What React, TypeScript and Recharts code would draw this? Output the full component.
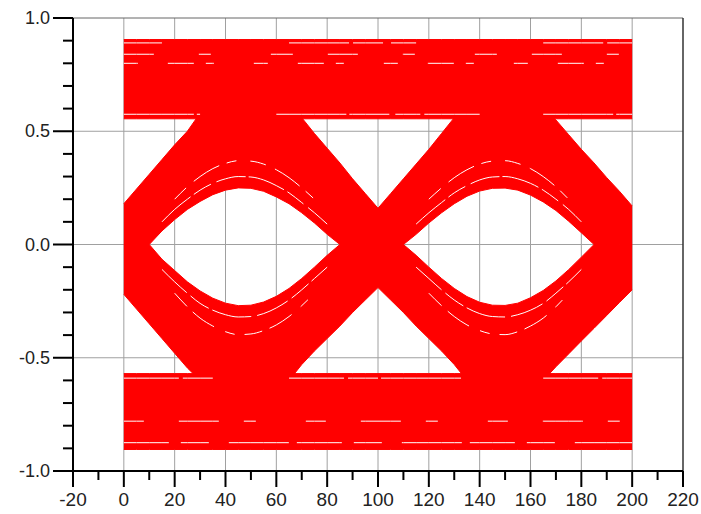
import { ComposedChart, Area, Line, XAxis, YAxis, CartesianGrid, ReferenceLine } from 'recharts'

// sample positions along the time axis (two bit periods, 0..200)
const times = [
  0, 5, 10, 15, 20, 25, 30, 35, 40, 45, 50, 55, 60, 65, 70, 75, 80, 85, 90, 95, 100,
  105, 110, 115, 120, 125, 130, 135, 140, 145, 150, 155, 160, 165, 170, 175, 180, 185, 190, 195, 200,
]

// upper half of the trace bundle: lower edge is the top of the eye opening
const upperLow = [
  0, 0, 0, 0.06, 0.11, 0.155, 0.19, 0.22, 0.24, 0.25, 0.248, 0.235, 0.21, 0.18, 0.14, 0.095, 0.045, 0, 0, 0, 0,
  0, 0, 0.045, 0.095, 0.14, 0.18, 0.213, 0.236, 0.248, 0.249, 0.24, 0.218, 0.188, 0.15, 0.103, 0.052, 0, 0, 0, 0,
]
const upperHigh = [
  0.18, 0.245, 0.31, 0.375, 0.44, 0.5, 0.58, 0.6, 0.6, 0.6, 0.6, 0.6, 0.6, 0.6, 0.56, 0.49, 0.425, 0.36, 0.29, 0.225, 0.16,
  0.225, 0.29, 0.355, 0.42, 0.49, 0.56, 0.6, 0.6, 0.6, 0.6, 0.6, 0.6, 0.6, 0.55, 0.485, 0.42, 0.36, 0.295, 0.235, 0.17,
]

// lower half of the trace bundle: upper edge is the bottom of the eye opening
const lowerLow = [
  -0.22, -0.285, -0.35, -0.415, -0.48, -0.545, -0.6, -0.6, -0.6, -0.6, -0.6, -0.6, -0.6, -0.6, -0.53, -0.47, -0.415, -0.36, -0.3, -0.245, -0.19,
  -0.245, -0.3, -0.36, -0.415, -0.47, -0.53, -0.6, -0.6, -0.6, -0.6, -0.6, -0.6, -0.6, -0.54, -0.483, -0.426, -0.37, -0.313, -0.256, -0.2,
]
const lowerHigh = [
  0, 0, 0, -0.065, -0.115, -0.165, -0.205, -0.237, -0.259, -0.27, -0.268, -0.254, -0.229, -0.194, -0.15, -0.1, -0.048, 0, 0, 0, 0,
  0, 0, -0.048, -0.1, -0.15, -0.194, -0.23, -0.255, -0.268, -0.269, -0.259, -0.235, -0.203, -0.161, -0.111, -0.056, 0, 0, 0, 0,
]

// steady "1" and "0" levels
const highLevel = [0.555, 0.905]
const lowLevel = [-0.905, -0.57]

// gaps between individual traces (white striations), null where there is none
const N = null
const gapHighTop = [
  0.89, 0.89, 0.89, 0.89, N, N, N, N, N, N, N, N, N, 0.89, 0.89, 0.89, 0.89, 0.89, 0.89, 0.89, 0.89,
  0.89, 0.89, 0.89, N, N, N, N, N, N, N, N, N, 0.89, 0.89, 0.89, 0.89, 0.89, 0.89, 0.89, 0.89,
]
const gapHighMid = [
  0.8, 0.8, 0.8, 0.8, 0.8, 0.8, 0.8, 0.8, 0.8, 0.8, 0.8, 0.8, 0.8, 0.8, 0.8, 0.8, 0.8, 0.8, 0.8, 0.8, 0.8,
  0.8, 0.8, 0.8, 0.8, 0.8, 0.8, 0.8, 0.8, 0.8, 0.8, 0.8, 0.8, 0.8, 0.8, 0.8, 0.8, 0.8, 0.8, 0.8, 0.8,
]
const gapHighUpperMid = [
  0.84, 0.84, 0.84, 0.84, 0.84, 0.84, 0.84, 0.84, 0.84, 0.84, 0.84, 0.84, 0.84, 0.84, 0.84, 0.84, 0.84, 0.84, 0.84, 0.84, 0.84,
  0.84, 0.84, 0.84, 0.84, 0.84, 0.84, 0.84, 0.84, 0.84, 0.84, 0.84, 0.84, 0.84, 0.84, 0.84, 0.84, 0.84, 0.84, 0.84, 0.84,
]
const gapHighLow = [
  0.575, 0.575, 0.575, 0.575, 0.575, 0.575, 0.575, N, N, N, N, N, 0.575, 0.575, 0.575, 0.575, 0.575, 0.575, 0.575, 0.575, 0.575,
  0.575, 0.575, 0.575, 0.575, 0.575, 0.575, 0.575, 0.575, N, N, N, N, 0.575, 0.575, 0.575, 0.575, 0.575, 0.575, 0.575, 0.575,
]
const gapLowTop = [
  -0.59, -0.59, -0.59, -0.59, -0.59, -0.59, -0.59, -0.59, N, N, N, N, N, -0.59, -0.59, -0.59, -0.59, -0.59, -0.59, -0.59, -0.59,
  -0.59, -0.59, -0.59, -0.59, -0.59, -0.59, -0.59, N, N, N, N, N, -0.59, -0.59, -0.59, -0.59, -0.59, -0.59, -0.59, -0.59,
]
const gapLowMid = [
  -0.78, -0.78, -0.78, -0.78, -0.78, -0.78, -0.78, -0.78, -0.78, -0.78, -0.78, -0.78, -0.78, -0.78, -0.78, -0.78, -0.78, -0.78, -0.78, -0.78, -0.78,
  -0.78, -0.78, -0.78, -0.78, -0.78, -0.78, -0.78, -0.78, -0.78, -0.78, -0.78, -0.78, -0.78, -0.78, -0.78, -0.78, -0.78, -0.78, -0.78, -0.78,
]
const gapLowBottom = [
  -0.875, -0.875, -0.875, -0.875, -0.875, -0.875, -0.875, -0.875, -0.875, -0.875, -0.875, -0.875, -0.875, -0.875, -0.875, -0.875, -0.875, -0.875, -0.875, -0.875, -0.875,
  -0.875, -0.875, -0.875, -0.875, -0.875, -0.875, -0.875, -0.875, -0.875, -0.875, -0.875, -0.875, -0.875, -0.875, -0.875, -0.875, -0.875, -0.875, -0.875, -0.875,
]
const gapArcTopA = [
  N, N, N, 0.1, 0.155, 0.2, 0.24, 0.27, 0.29, 0.3, 0.298, 0.285, 0.26, 0.228, 0.185, 0.14, 0.09, N, N, N, N,
  N, N, 0.09, 0.14, 0.185, 0.228, 0.26, 0.285, 0.298, 0.3, 0.29, 0.27, 0.24, 0.2, 0.155, 0.1, N, N, N, N,
]
const gapArcTopB = [
  N, N, N, N, 0.2, 0.255, 0.3, 0.335, 0.358, 0.37, 0.368, 0.355, 0.33, 0.295, 0.25, 0.2, N, N, N, N, N,
  N, N, N, 0.2, 0.25, 0.295, 0.33, 0.355, 0.368, 0.37, 0.358, 0.335, 0.3, 0.255, 0.2, N, N, N, N, N,
]
const gapArcBotA = [
  N, N, N, -0.11, -0.165, -0.215, -0.26, -0.29, -0.31, -0.32, -0.318, -0.305, -0.28, -0.245, -0.2, -0.15, -0.1, N, N, N, N,
  N, N, -0.1, -0.15, -0.2, -0.245, -0.28, -0.305, -0.318, -0.32, -0.31, -0.29, -0.26, -0.215, -0.165, -0.11, N, N, N, N,
]
const gapArcBotB = [
  N, N, N, N, -0.215, -0.275, -0.325, -0.36, -0.385, -0.398, -0.395, -0.38, -0.355, -0.318, -0.27, -0.215, N, N, N, N, N,
  N, N, N, -0.215, -0.27, -0.318, -0.355, -0.38, -0.395, -0.398, -0.385, -0.36, -0.325, -0.275, -0.215, N, N, N, N, N,
]

const xTicks = [-20, -10, 0, 10, 20, 30, 40, 50, 60, 70, 80, 90, 100, 110, 120, 130, 140, 150, 160, 170, 180, 190, 200, 210, 220]
const yTicks = [
  -1, -0.9, -0.8, -0.7, -0.6, -0.5, -0.4, -0.3, -0.2, -0.1, 0,
  0.1, 0.2, 0.3, 0.4, 0.5, 0.6, 0.7, 0.8, 0.9, 1,
]
const xGrid = [0, 20, 40, 60, 80, 100, 120, 140, 160, 180, 200]
const yGrid = [-0.5, 0, 0.5]

const data = times.map((t, i) => ({
  t,
  upper: [upperLow[i], upperHigh[i]],
  lower: [lowerLow[i], lowerHigh[i]],
  high: highLevel,
  low: lowLevel,
  g1: gapHighTop[i],
  g2: gapHighMid[i],
  g7: gapHighUpperMid[i],
  g3: gapHighLow[i],
  g4: gapLowTop[i],
  g5: gapLowMid[i],
  g6: gapLowBottom[i],
  a1: gapArcTopA[i],
  a2: gapArcTopB[i],
  a3: gapArcBotA[i],
  a4: gapArcBotB[i],
}))

// irregular dash pattern per striation so the gaps look broken like the original
const gapStyles: [string, string][] = [
  ['g1', '60 4 30 8 90 5'],
  ['g2', '14 30 26 12 8 40'],
  ['g7', '30 45 12 60 22 35'],
  ['g3', '70 3 40 6 25 4'],
  ['g4', '55 4 30 3 80 6'],
  ['g5', '20 35 40 25 12 50'],
  ['g6', '45 12 28 20 60 8'],
  ['a1', '38 4 20 6 30 3'],
  ['a2', '16 10 30 8 10 14'],
  ['a3', '34 5 22 4 40 6'],
  ['a4', '18 8 26 12 10 10'],
]

const RED = '#ff0000'
const FONT = '"Liberation Sans", Arial, sans-serif'

function YTick(props: any) {
  const { x, y, payload } = props
  const v = payload.value
  const major = Math.abs(v * 2 - Math.round(v * 2)) < 1e-6
  const len = major ? 20 : 10
  return (
    <g>
      <line x1={x - len} x2={x} y1={y} y2={y} stroke="#000" strokeWidth={2} />
      {major && (
        <text x={x - len - 3} y={y} textAnchor="end" dominantBaseline="central" fontSize={18} fill="#222" fontFamily={FONT}>
          {v.toFixed(1)}
        </text>
      )}
    </g>
  )
}

function XTick(props: any) {
  const { x, y, payload } = props
  const v = payload.value
  const major = v % 20 === 0
  const len = major ? 16 : 9
  return (
    <g>
      <line x1={x} x2={x} y1={y} y2={y + len} stroke="#000" strokeWidth={2} />
      {major && (
        <text x={x} y={y + 28} textAnchor="middle" dominantBaseline="central" fontSize={19} fill="#222" fontFamily={FONT}>
          {v}
        </text>
      )}
    </g>
  )
}

export default function App() {
  return (
    <div style={{ position: 'absolute', left: 0, top: 0, width: 701, height: 514, background: '#fff' }}>
      <ComposedChart width={701} height={514} data={data} margin={{ top: 18, right: 18, bottom: 0, left: 1 }}>
        <CartesianGrid stroke="#a0a0a0" verticalValues={xGrid} horizontalValues={yGrid} />
        <XAxis
          dataKey="t"
          type="number"
          domain={[-20, 220]}
          ticks={xTicks}
          interval={0}
          height={43}
          tickSize={0}
          tickMargin={0}
          tickLine={false}
          axisLine={{ stroke: '#000', strokeWidth: 2 }}
          tick={<XTick />}
        />
        <YAxis
          type="number"
          domain={[-1, 1]}
          ticks={yTicks}
          interval={0}
          width={72}
          tickSize={0}
          tickMargin={0}
          tickLine={false}
          axisLine={{ stroke: '#000', strokeWidth: 2 }}
          tick={<YTick />}
        />
        <Area dataKey="high" type="linear" stroke={RED} strokeWidth={1} fill={RED} fillOpacity={1} isAnimationActive={false} />
        <Area dataKey="low" type="linear" stroke={RED} strokeWidth={1} fill={RED} fillOpacity={1} isAnimationActive={false} />
        <Area dataKey="upper" type="linear" stroke={RED} strokeWidth={1} fill={RED} fillOpacity={1} isAnimationActive={false} />
        <Area dataKey="lower" type="linear" stroke={RED} strokeWidth={1} fill={RED} fillOpacity={1} isAnimationActive={false} />
        {gapStyles.map(([key, dash]) => (
          <Line
            key={key}
            dataKey={key}
            type="monotone"
            stroke="#ffffff"
            strokeWidth={1}
            strokeDasharray={dash}
            dot={false}
            activeDot={false}
            isAnimationActive={false}
          />
        ))}
        <ReferenceLine y={1} stroke="#666" strokeWidth={1} />
        <ReferenceLine x={220} stroke="#333" strokeWidth={1.5} />
      </ComposedChart>
    </div>
  )
}
